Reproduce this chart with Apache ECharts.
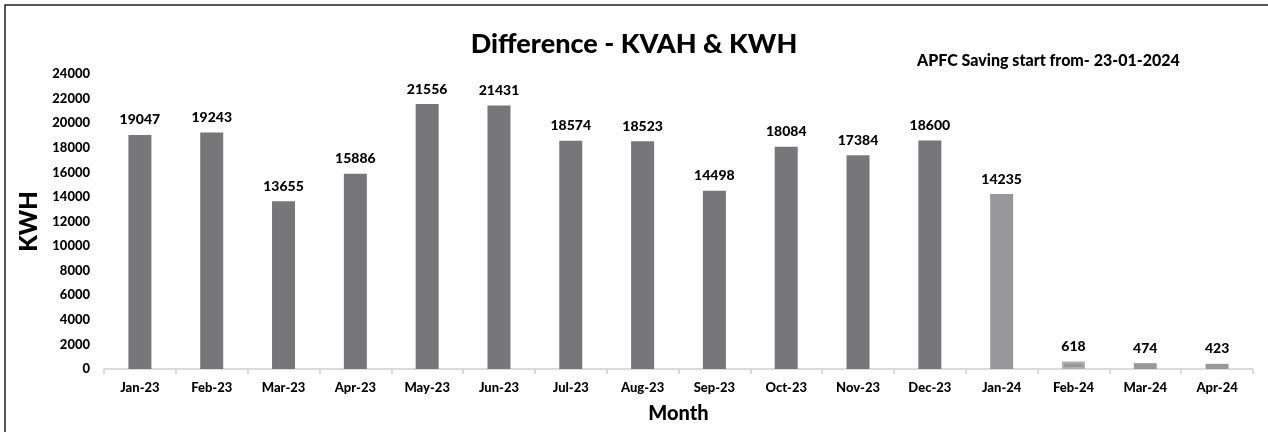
<!DOCTYPE html>
<html>
<head>
<meta charset="utf-8">
<script src="https://cdn.jsdelivr.net/npm/echarts@6/dist/echarts.min.js"></script>
<style>html,body{margin:0;padding:0;background:#fff}#c{width:1268px;height:432px}</style>
</head>
<body>
<div id="c"></div>
<script>
var categories = ['Jan-23','Feb-23','Mar-23','Apr-23','May-23','Jun-23','Jul-23','Aug-23','Sep-23','Oct-23','Nov-23','Dec-23','Jan-24','Feb-24','Mar-24','Apr-24'];
var values = [19047,19243,13655,15886,21556,21431,18574,18523,14498,18084,17384,18600,14235,618,474,423];
var afterApfc = [false,false,false,false,false,false,false,false,false,false,false,false,true,true,true,true];
var yTicks = [0,2000,4000,6000,8000,10000,12000,14000,16000,18000,20000,22000,24000];

var FONT = 'Lato, "Open Sans", sans-serif';
var chart = echarts.init(document.getElementById('c'), null, {renderer:'canvas'});
var data = values.map(function(v,i){
  return {value:v, itemStyle:{color: afterApfc[i] ? '#98989c' : '#77777a',
    borderColor: i===13 ? '#b0b0b4' : 'transparent', borderWidth: i===13 ? 2 : 0}};
});
chart.setOption({
  animation:false,
  backgroundColor:'#fff',
  title:{text:'Difference - KVAH & KWH', left:'center', top:26,
    textStyle:{fontFamily:FONT, fontWeight:900, fontSize:27, color:'#000'}},
  graphic:[
    {type:'rect', shape:{x:5, y:5, width:1300, height:460}, style:{fill:'none', stroke:'#222', lineWidth:1.5}, silent:true},
    {type:'text', left:917, top:53, style:{text:'APFC Saving start from- 23-01-2024', fontFamily:FONT, fontWeight:900, fontSize:16, fill:'#000'}}
  ],
  grid:{left:104, right:15, top:74, bottom:63, containLabel:false},
  xAxis:{type:'category', data:categories, name:'Month', nameLocation:'middle', nameGap:35,
    nameTextStyle:{fontFamily:FONT, fontWeight:900, fontSize:20, color:'#000'},
    axisLine:{lineStyle:{color:'#d0d0d0', width:1.5}},
    axisTick:{show:true, length:5, lineStyle:{color:'#d0d0d0', width:1.5}},
    axisLabel:{fontFamily:FONT, fontWeight:900, fontSize:13, color:'#000', margin:12}},
  yAxis:{type:'value', min:yTicks[0], max:yTicks[yTicks.length-1], interval:2000,
    name:'KWH', nameLocation:'middle', nameGap:62, nameRotate:90,
    nameTextStyle:{fontFamily:FONT, fontWeight:900, fontSize:24, color:'#000'},
    splitLine:{show:false}, axisLine:{show:false}, axisTick:{show:false},
    axisLabel:{fontFamily:FONT, fontWeight:900, fontSize:13, color:'#000', margin:14,
      formatter:function(v){return String(v);}}},
  series:[{type:'bar', data:data, barWidth:23,
    label:{show:true, position:'top', distance:8, fontFamily:FONT, fontWeight:900, fontSize:14, color:'#000'}}]
});
</script>
</body>
</html>
